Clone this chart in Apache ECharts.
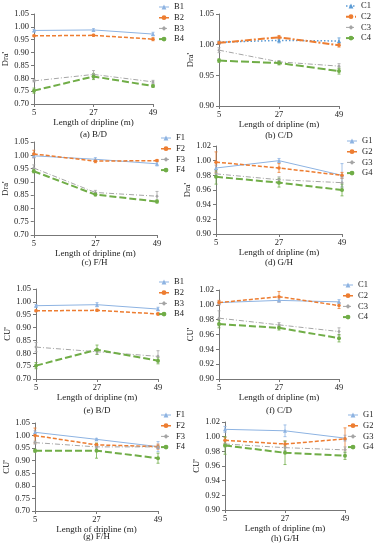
<!DOCTYPE html>
<html><head><meta charset="utf-8">
<script src="https://cdn.jsdelivr.net/npm/echarts@6/dist/echarts.min.js"></script>
<style>html,body{margin:0;padding:0;background:#fff}#c{width:375px;height:550px}</style>
</head><body><div id="c"></div>
<script>
// ---------- DATA ----------
const xCats = ['5', '27', '49'];
const xName = 'Length of dripline (m)';
const yTicksWide = [0.70, 1.05, 0.05];
const yTicksNarrowC = [0.90, 1.05, 0.05];
const yTicksNarrow = [0.90, 1.02, 0.02];

// (a) Dra' B/D
const aB1 = [0.986, 0.988, 0.972], aB1e = [0.004, 0.005, 0.007];
const aB2 = [0.965, 0.967, 0.952], aB2e = [0.003, 0.004, 0.006];
const aB3 = [0.790, 0.815, 0.786], aB3e = [0.004, 0.015, 0.006];
const aB4 = [0.752, 0.807, 0.770], aB4e = [0.010, 0.012, 0.005];
// (b) Dra' C/D
const bC1 = [1.004, 1.007, 1.006], bC1e = [0.002, 0.004, 0.005];
const bC2 = [1.003, 1.012, 0.999], bC2e = [0.002, 0.003, 0.003];
const bC3 = [0.991, 0.972, 0.965], bC3e = [0.004, 0.002, 0.004];
const bC4 = [0.974, 0.970, 0.957], bC4e = [0.003, 0.003, 0.005];
// (c) Dra' F/H
const cF1 = [0.998, 0.985, 0.968], cF1e = [0.008, 0.006, 0.008];
const cF2 = [1.005, 0.978, 0.980], cF2e = [0.014, 0.006, 0.004];
const cF3 = [0.952, 0.860, 0.846], cF3e = [0.012, 0.008, 0.018];
const cF4 = [0.940, 0.852, 0.826], cF4e = [0.006, 0.005, 0.006];
// (d) Dra' G/H
const dG1 = [0.990, 1.000, 0.980], dG1e = [0.004, 0.003, 0.016];
const dG2 = [0.998, 0.990, 0.980], dG2e = [0.014, 0.006, 0.004];
const dG3 = [0.982, 0.974, 0.970], dG3e = [0.004, 0.004, 0.006];
const dG4 = [0.978, 0.970, 0.960], dG4e = [0.010, 0.006, 0.008];
// (e) CU' B/D
const eB1 = [0.985, 0.989, 0.972], eB1e = [0.004, 0.008, 0.007];
const eB2 = [0.965, 0.967, 0.953], eB2e = [0.003, 0.004, 0.005];
const eB3 = [0.824, 0.806, 0.788], eB3e = [0.018, 0.010, 0.022];
const eB4 = [0.752, 0.814, 0.771], eB4e = [0.012, 0.018, 0.012];
// (f) CU' C/D
const fC1 = [1.003, 1.006, 1.004], fC1e = [0.002, 0.002, 0.003];
const fC2 = [1.003, 1.011, 0.999], fC2e = [0.003, 0.007, 0.004];
const fC3 = [0.982, 0.973, 0.964], fC3e = [0.010, 0.003, 0.005];
const fC4 = [0.974, 0.969, 0.955], fC4e = [0.005, 0.003, 0.005];
// (g) CU' F/H
const gF1 = [1.013, 0.985, 0.956], gF1e = [0.006, 0.004, 0.020];
const gF2 = [1.000, 0.963, 0.956], gF2e = [0.030, 0.006, 0.010];
const gF3 = [0.972, 0.955, 0.955], gF3e = [0.006, 0.006, 0.006];
const gF4 = [0.940, 0.940, 0.910], gF4e = [0.006, 0.030, 0.020];
// (h) CU' G/H
const hG1 = [1.010, 1.008, 0.998], hG1e = [0.004, 0.008, 0.004];
const hG2 = [0.995, 0.990, 0.997], hG2e = [0.004, 0.004, 0.015];
const hG3 = [0.990, 0.985, 0.982], hG3e = [0.004, 0.004, 0.004];
const hG4 = [0.988, 0.978, 0.974], hG4e = [0.012, 0.016, 0.005];

// ---------- STYLE / LAYOUT ----------
const FONT = 'Liberation Serif';
const BLUE = '#8db3e2', ORANGE = '#ed7d31', GREY = '#a5a5a5', GREEN = '#70ad47', DBLUE = '#5b9bd5';
const styles = [
  {color: BLUE, type: 'solid', width: 1, symbol: 'triangle', size: 4},
  {color: ORANGE, type: [4, 2], width: 1.5, symbol: 'circle', size: 3.5},
  {color: GREY, type: [5, 2, 1, 2], width: 1, symbol: 'diamond', size: 3.5},
  {color: GREEN, type: [7, 3], width: 2, symbol: 'circle', size: 4}
];
const stylesB = [
  {color: DBLUE, type: [1.5, 2], width: 1.5, symbol: 'triangle', size: 4},
  {color: ORANGE, type: [7, 2, 2, 2], width: 2, symbol: 'circle', size: 3.5},
  {color: GREY, type: [5, 2, 1, 2], width: 1, symbol: 'diamond', size: 3.5},
  {color: GREEN, type: [8, 3], width: 2, symbol: 'circle', size: 4}
];

const panels = [
  {cap: '(a) B/D', yName: "Dra'", ticks: yTicksWide, names: ['B1','B2','B3','B4'], vals: [aB1,aB2,aB3,aB4], errs: [aB1e,aB2e,aB3e,aB4e],
   g: {left: 34, right: 222, top: 14, height: 90}, leg: [173, 2], capY: 135, yGap: 22, st: styles},
  {cap: '(b) C/D', yName: "Dra'", ticks: yTicksNarrowC, names: ['C1','C2','C3','C4'], vals: [bC1,bC2,bC3,bC4], errs: [bC1e,bC2e,bC3e,bC4e],
   g: {left: 219, right: 36, top: 14, height: 92}, leg: [360, 1], capY: 136, yGap: 22, st: stylesB},
  {cap: '(c) F/H', yName: "Dra'", ticks: yTicksWide, names: ['F1','F2','F3','F4'], vals: [cF1,cF2,cF3,cF4], errs: [cF1e,cF2e,cF3e,cF4e],
   g: {left: 32, right: 218, top: 142, height: 93}, leg: [175, 133], capY: 263, yGap: 23, st: styles},
  {cap: '(d) G/H', yName: "Dra'", ticks: yTicksNarrow, names: ['G1','G2','G3','G4'], vals: [dG1,dG2,dG3,dG4], errs: [dG1e,dG2e,dG3e,dG4e],
   g: {left: 216, right: 33, top: 146, height: 88}, leg: [361, 136], capY: 263, yGap: 23, st: styles},
  {cap: '(e) B/D', yName: "CU'", ticks: yTicksWide, names: ['B1','B2','B3','B4'], vals: [eB1,eB2,eB3,eB4], errs: [eB1e,eB2e,eB3e,eB4e],
   g: {left: 36, right: 217, top: 289, height: 90}, leg: [173, 277], capY: 411, yGap: 21, st: styles},
  {cap: '(f) C/D', yName: "CU'", ticks: yTicksNarrow, names: ['C1','C2','C3','C4'], vals: [fC1,fC2,fC3,fC4], errs: [fC1e,fC2e,fC3e,fC4e],
   g: {left: 219, right: 36, top: 290, height: 89}, leg: [357, 280], capY: 411, yGap: 18, st: styles},
  {cap: '(g) F/H', yName: "CU'", ticks: yTicksWide, names: ['F1','F2','F3','F4'], vals: [gF1,gF2,gF3,gF4], errs: [gF1e,gF2e,gF3e,gF4e],
   g: {left: 35, right: 217, top: 423, height: 88}, leg: [175, 410], capY: 537, yGap: 18, st: styles},
  {cap: '(h) G/H', yName: "CU'", ticks: yTicksNarrow, names: ['G1','G2','G3','G4'], vals: [hG1,hG2,hG3,hG4], errs: [hG1e,hG2e,hG3e,hG4e],
   g: {left: 225, right: 30, top: 422, height: 88}, leg: [362, 410], capY: 539, yGap: 23, st: styles}
];

const txt = {fontFamily: FONT, color: '#222'};
const option = {animation: false, grid: [], xAxis: [], yAxis: [], series: [], legend: [], title: []};
const LEG_W = 10, LEG_TXT_GAP = 5;

panels.forEach((p, i) => {
  option.grid.push(Object.assign({containLabel: false}, p.g));
  option.xAxis.push({
    type: 'category', gridIndex: i, data: xCats, boundaryGap: false,
    name: xName, nameLocation: 'middle', nameGap: 12,
    nameTextStyle: Object.assign({fontSize: 9}, txt),
    axisLine: {lineStyle: {color: '#777', width: 1}},
    axisTick: {show: true, alignWithLabel: true, length: 3, lineStyle: {color: '#777'}},
    axisLabel: Object.assign({fontSize: 8.5, margin: 4, interval: 0}, txt),
    splitLine: {show: false}
  });
  option.yAxis.push({
    type: 'value', gridIndex: i, min: p.ticks[0], max: p.ticks[1], interval: p.ticks[2],
    name: p.yName, nameLocation: 'middle', nameGap: p.yGap,
    nameTextStyle: Object.assign({fontSize: 8.5}, txt),
    axisLine: {show: true, lineStyle: {color: '#777', width: 1}},
    axisTick: {show: true, length: 3, lineStyle: {color: '#777'}},
    axisLabel: Object.assign({fontSize: 8.5, margin: 5, formatter: v => v.toFixed(2)}, txt),
    splitLine: {show: false}
  });
  p.names.forEach((nm, k) => {
    const s = p.st[k];
    const v = p.vals[k], e = p.errs[k];
    option.series.push({
      type: 'custom', xAxisIndex: i, yAxisIndex: i, z: 1, silent: true,
      data: v.map((y, j) => [j, y - e[j], y + e[j]]),
      encode: {x: 0, y: [1, 2]},
      renderItem: (params, api) => {
        const lo = api.coord([api.value(0), api.value(1)]);
        const hi = api.coord([api.value(0), api.value(2)]);
        const c = 1.5;
        const ls = {stroke: s.color, lineWidth: 0.8};
        return {type: 'group', children: [
          {type: 'line', shape: {x1: lo[0], y1: lo[1], x2: hi[0], y2: hi[1]}, style: ls},
          {type: 'line', shape: {x1: lo[0]-c, y1: lo[1], x2: lo[0]+c, y2: lo[1]}, style: ls},
          {type: 'line', shape: {x1: hi[0]-c, y1: hi[1], x2: hi[0]+c, y2: hi[1]}, style: ls}
        ]};
      }
    });
    option.series.push({
      type: 'line', name: nm, xAxisIndex: i, yAxisIndex: i, z: 2,
      data: v, symbol: s.symbol, symbolSize: s.size, showSymbol: true,
      lineStyle: {color: s.color, type: s.type, width: s.width},
      itemStyle: {color: s.color}
    });
  });
  option.legend.push({
    orient: 'vertical', left: p.leg[0] - LEG_W - LEG_TXT_GAP, top: p.leg[1], padding: 0,
    itemWidth: LEG_W, itemHeight: 6, itemGap: 0.7,
    textStyle: Object.assign({fontSize: 8.5, lineHeight: 10}, txt),
    data: p.names.map((nm, k) => ({
      name: nm,
      itemStyle: {color: p.st[k].color},
      lineStyle: {color: p.st[k].color, type: p.st[k].type, width: p.st[k].width}
    }))
  });
  const cx = p.g.left + (375 - p.g.left - p.g.right) / 2;
  option.title.push({
    text: p.cap, left: cx, top: p.capY - 5, textAlign: 'center', padding: 0,
    textStyle: Object.assign({fontSize: 9, fontWeight: 'normal', lineHeight: 10}, txt)
  });
});

const chart = echarts.init(document.getElementById('c'), null, {renderer: 'canvas'});
chart.setOption(option);
</script>
</body></html>
